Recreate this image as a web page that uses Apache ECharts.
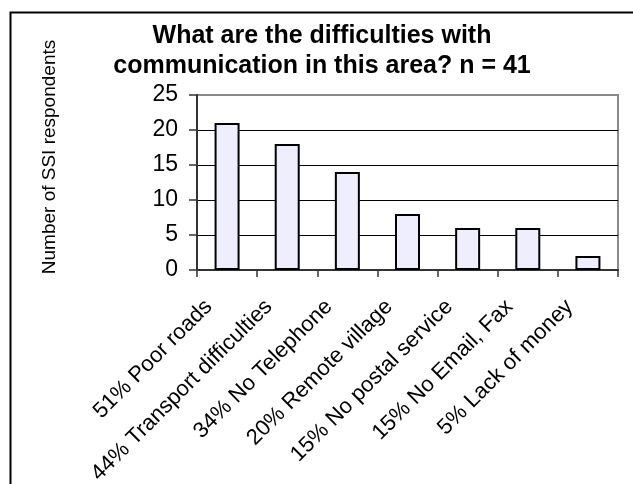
<!DOCTYPE html>
<html>
<head>
<meta charset="utf-8">
<script src="https://cdn.jsdelivr.net/npm/echarts@6/dist/echarts.min.js"></script>
<style>
html,body{margin:0;padding:0;background:#fff;}
#chart{width:633px;height:484px;}
</style>
</head>
<body>
<div id="chart"></div>
<script>
const categories = ['51% Poor roads', '44% Transport difficulties', '34% No Telephone', '20% Remote village', '15% No postal service', '15% No Email, Fax', '5% Lack of money'];
const respondents = [21, 18, 14, 8, 6, 6, 2];
const yTicks = { min: 0, max: 25, interval: 5 };
const titleLines = ['What are the difficulties with', 'communication in this area? n = 41'];
const yAxisTitle = 'Number of SSI respondents';

const chart = echarts.init(document.getElementById('chart'), null, { renderer: 'canvas' });
const font = '"Liberation Sans", Arial, sans-serif';
chart.setOption({
  animation: false,
  backgroundColor: '#fff',
  title: {
    text: titleLines.join('\n'),
    left: 322,
    textAlign: 'center',
    top: 21,
    padding: 0,
    textStyle: { fontFamily: font, fontWeight: 'bold', fontSize: 25, lineHeight: 30, color: '#000' }
  },
  grid: { left: 197, right: 15, top: 95, bottom: 214, outerBoundsMode: 'none', containLabel: false, show: true, borderColor: '#8a8a8a', borderWidth: 2, backgroundColor: 'transparent' },
  xAxis: {
    type: 'category',
    data: categories,
    axisLine: { lineStyle: { color: '#333', width: 2 } },
    axisTick: { show: true, length: 7, lineStyle: { color: '#333', width: 1.5 } },
    axisLabel: { rotate: 45, interval: 0, margin: 15, padding: [0, 26, 0, 0], fontFamily: font, fontSize: 22, color: '#000' }
  },
  yAxis: {
    type: 'value',
    min: yTicks.min, max: yTicks.max, interval: yTicks.interval,
    axisLine: { show: true, lineStyle: { color: '#333', width: 2 } },
    axisTick: { show: true, length: 8, lineStyle: { color: '#333', width: 1.5 } },
    axisLabel: { margin: 19, fontFamily: font, fontSize: 23, color: '#000' },
    splitLine: { show: true, lineStyle: { color: ['#000', '#000', '#000', '#000', '#000', '#8a8a8a'], width: 1 } }
  },
  series: [{
    type: 'bar',
    data: respondents,
    barWidth: 25,
    itemStyle: { color: '#EEEEFF', borderColor: '#000', borderWidth: 2 }
  }],
  graphic: [
    { type: 'rect', left: 8, top: 10, shape: { width: 700, height: 600 }, style: { fill: 'none', stroke: '#000', lineWidth: 2 }, silent: true, z: -1 },
    { type: 'text', x: 40, y: 157, rotation: Math.PI / 2, style: { text: yAxisTitle, font: '19px ' + font, fill: '#000', align: 'center', verticalAlign: 'top' } }
  ]
});
</script>
</body>
</html>
